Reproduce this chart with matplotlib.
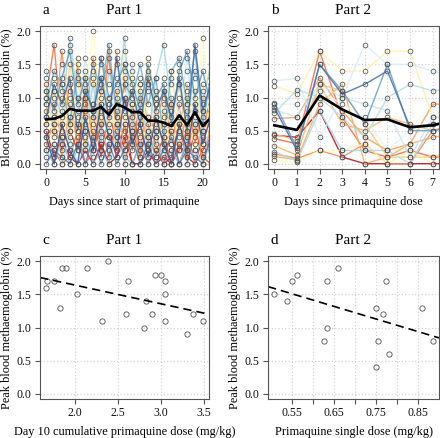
import numpy as np
import matplotlib
matplotlib.use('Agg')
import matplotlib.pyplot as plt

plt.rcParams['font.family'] = ['Liberation Serif', 'DejaVu Serif']

# Part 1: daily methaemoglobin (%) per subject, days 0..21
days_a = np.arange(22)
part1 = [
    [0.5, 0.1, 0.4, 0.1, 0.0, 0.2, 0.0, 0.3, 0.0, 0.1, 0.4, 0.0, 0.0, 0.2, 0.0, 0.1, 0.0, 0.3, 0.1, 0.0, 0.4, 0.2],
    [0.6, 0.9, 0.3, 0.5, 0.2, 0.9, 0.8, 0.2, 0.5, 0.1, 0.6, 0.0, 0.3, 0.0, 0.2, 0.0, 0.1, 0.6, 0.0, 0.5, 0.1, 0.3],
    [0.4, 0.6, 0.2, 0.7, 0.6, 0.3, 0.7, 0.1, 0.8, 0.3, 0.3, 0.9, 0.2, 0.5, 0.1, 0.4, 0.0, 0.2, 0.5, 0.0, 0.2, 0.4],
    [0.3, 0.2, 0.0, 0.1, 0.5, 0.0, 0.2, 0.6, 0.1, 0.7, 0.0, 0.5, 0.1, 0.6, 0.3, 0.0, 0.5, 0.0, 0.3, 0.6, 0.1, 0.0],
    [1.0, 1.8, 0.5, 1.2, 0.3, 1.0, 0.4, 1.1, 1.6, 0.6, 1.2, 0.2, 1.0, 0.7, 0.5, 1.1, 0.3, 0.9, 0.1, 0.8, 0.5, 1.0],
    [0.8, 0.5, 1.7, 0.6, 1.5, 0.6, 1.6, 0.4, 1.7, 0.4, 1.3, 0.7, 0.1, 1.2, 0.4, 0.6, 0.9, 0.2, 0.8, 0.3, 0.8, 0.5],
    [0.2, 0.7, 0.1, 0.9, 0.3, 1.2, 0.2, 0.8, 0.4, 1.1, 0.2, 0.6, 0.8, 0.3, 0.9, 0.2, 0.6, 1.2, 0.4, 0.9, 0.0, 0.6],
    [1.2, 0.4, 1.0, 0.5, 1.3, 0.2, 0.9, 1.6, 0.6, 1.7, 0.5, 1.1, 0.4, 1.4, 0.7, 0.3, 1.0, 0.5, 1.2, 0.4, 1.0, 0.8],
    [0.6, 1.1, 0.3, 1.5, 0.8, 0.5, 1.3, 0.6, 1.0, 0.3, 1.5, 0.4, 1.2, 0.5, 0.2, 0.8, 0.3, 0.7, 0.2, 1.1, 0.3, 0.9],
    [0.9, 0.5, 1.2, 0.3, 1.6, 0.8, 0.3, 1.2, 0.5, 1.0, 0.7, 1.3, 0.6, 0.2, 1.1, 0.5, 0.8, 0.4, 1.0, 0.6, 1.2, 0.7],
    [1.1, 0.7, 0.4, 1.0, 0.6, 1.4, 0.5, 1.0, 0.9, 0.5, 1.7, 0.8, 1.2, 0.7, 0.4, 0.9, 1.4, 0.6, 0.9, 0.2, 0.7, 1.1],
    [0.7, 1.3, 0.6, 1.8, 0.4, 1.1, 2.0, 0.7, 1.2, 0.8, 1.0, 1.4, 0.5, 1.6, 0.9, 0.6, 1.2, 0.3, 1.1, 0.7, 1.9, 0.6],
    [1.0, 0.3, 1.1, 0.7, 1.2, 0.4, 1.4, 0.9, 0.3, 1.3, 0.6, 0.9, 1.3, 0.4, 1.0, 0.7, 0.2, 1.5, 0.6, 1.3, 0.5, 1.2],
    [0.5, 1.0, 0.8, 0.2, 1.0, 1.3, 0.6, 1.5, 0.9, 0.6, 1.4, 0.5, 0.9, 1.1, 0.6, 1.3, 0.5, 1.0, 1.4, 0.8, 0.6, 1.3],
    [1.3, 0.6, 1.5, 1.1, 0.7, 1.6, 0.9, 1.3, 0.4, 1.5, 0.9, 1.5, 0.7, 1.2, 0.5, 1.0, 1.3, 0.7, 1.6, 0.5, 1.1, 0.8],
    [0.1, 0.3, 0.0, 0.4, 0.0, 0.3, 0.1, 0.5, 0.2, 0.4, 0.0, 0.3, 0.0, 0.4, 0.1, 0.3, 0.0, 0.5, 0.0, 0.2, 0.0, 0.3],
    [1.4, 1.1, 0.7, 1.9, 1.0, 0.5, 1.2, 0.3, 1.4, 0.9, 1.9, 0.5, 1.1, 0.3, 1.3, 1.8, 0.9, 1.2, 0.7, 1.4, 0.9, 1.5],
    [0.2, 0.0, 0.4, 0.0, 0.2, 0.5, 0.0, 0.2, 0.0, 0.6, 0.1, 0.0, 0.3, 0.0, 0.5, 0.0, 0.2, 0.0, 0.4, 0.0, 0.5, 0.1],
    [0.9, 1.4, 1.2, 0.6, 1.4, 1.0, 1.5, 1.1, 1.8, 0.7, 1.2, 1.0, 1.5, 0.9, 1.3, 0.4, 1.4, 1.6, 0.9, 1.7, 0.6, 1.3],
    [1.1, 0.8, 1.3, 1.7, 0.9, 1.3, 0.7, 1.6, 1.0, 1.2, 1.5, 1.2, 0.8, 1.5, 1.0, 1.2, 0.6, 1.4, 1.7, 1.0, 1.4, 0.9],
    [0.0, 0.2, 0.1, 0.0, 0.3, 0.0, 0.4, 0.0, 0.3, 0.0, 0.2, 0.4, 0.0, 0.3, 0.0, 0.2, 0.4, 0.0, 0.2, 0.1, 0.0, 0.4],
    [0.7, 1.2, 0.9, 1.3, 0.5, 1.1, 0.8, 1.3, 0.7, 1.6, 0.8, 1.1, 0.6, 1.3, 0.8, 1.1, 0.7, 1.3, 0.5, 1.8, 0.8, 1.2],
    [0.4, 0.0, 0.6, 0.2, 0.0, 0.7, 0.2, 0.9, 0.4, 0.2, 1.0, 0.3, 0.6, 0.1, 0.7, 0.3, 0.0, 0.6, 0.2, 0.9, 0.3, 0.7],
]
mean_a = [0.67, 0.68, 0.72, 0.83, 0.80, 0.80, 0.80, 0.86, 0.74, 0.90, 0.85,
          0.78, 0.78, 0.65, 0.65, 0.62, 0.57, 0.73, 0.58, 0.78, 0.57, 0.69]

# Part 2: daily methaemoglobin (%) per subject, days 0..8
days_b = np.arange(9)
part2 = [
    [0.43, 0.40, 0.80, 0.10, 0.00, 0.00, 0.00, 0.00, 0.00],
    [0.38, 0.30, 1.70, 0.70, 0.20, 0.10, 0.20, 0.10, 0.10],
    [0.15, 0.08, 0.20, 0.10, 0.30, 0.00, 0.00, 0.50, 0.60],
    [0.68, 0.70, 1.30, 0.80, 0.40, 0.20, 0.30, 0.90, 0.90],
    [0.27, 0.13, 1.20, 0.60, 0.50, 0.70, 0.60, 0.50, 0.55],
    [0.11, 0.06, 0.90, 1.20, 0.00, 0.10, 0.30, 0.40, 0.45],
    [0.45, 0.35, 1.20, 1.10, 0.60, 0.10, 0.10, 0.10, 0.20],
    [1.18, 1.05, 1.70, 1.40, 1.40, 1.70, 1.70, 0.70, 0.75],
    [0.06, 0.02, 0.20, 0.20, 0.30, 0.00, 0.20, 0.00, 0.30],
    [0.90, 0.90, 1.10, 0.90, 0.70, 0.20, 0.50, 0.60, 0.60],
    [1.25, 1.29, 0.40, 1.00, 1.80, 1.50, 1.50, 1.40, 1.30],
    [0.81, 0.71, 1.20, 1.00, 0.90, 0.80, 0.10, 0.70, 0.70],
    [0.76, 1.12, 1.00, 0.70, 0.40, 1.00, 1.20, 1.10, 1.15],
    [0.18, 0.04, 0.80, 0.20, 0.20, 0.20, 0.00, 0.60, 0.65],
    [0.92, 0.24, 1.50, 1.10, 0.60, 1.50, 0.50, 0.50, 0.55],
    [0.85, 0.20, 1.50, 1.05, 1.20, 1.40, 0.55, 0.60, 0.60],
]
mean_b = [0.58, 0.51, 1.03, 0.82, 0.66, 0.67, 0.55, 0.58, 0.66]
# position of each Part 2 subject on the red-yellow-blue scale
shade_b = [0.05, 0.2, 0.25, 0.28, 0.32, 0.3, 0.35, 0.45, 0.48,
           0.58, 0.62, 0.65, 0.68, 0.7, 0.82, 0.9]

# Peak methaemoglobin vs dose
dose_c = [1.665, 1.67, 1.75, 1.82, 1.85, 1.90, 2.02, 2.14, 2.32, 2.385, 2.60, 2.615,
          2.80, 2.83, 2.90, 2.935, 3.00, 3.05, 3.05, 3.05, 3.31, 3.38, 3.49]
peak_c = [1.6, 1.7, 1.7, 1.3, 1.9, 1.9, 1.5, 1.9, 1.1, 2.0, 1.2, 1.7,
          1.0, 1.4, 1.2, 1.8, 1.8, 1.7, 1.5, 1.1, 0.9, 1.2, 1.1]
dose_d = [0.509, 0.539, 0.55, 0.564, 0.628, 0.635, 0.635, 0.661,
          0.75, 0.751, 0.757, 0.767, 0.774, 0.782, 0.861, 0.886]
peak_d = [1.5, 1.4, 1.7, 1.8, 0.8, 1.7, 1.0, 1.9,
          0.4, 1.3, 0.8, 1.2, 1.7, 0.6, 1.3, 0.8]

W, H = 440, 438
fig = plt.figure(figsize=(W / 100, H / 100), dpi=100)
EDGE = '#505050'


def panel(x0, y0, x1, y1):
    return fig.add_axes([x0 / W, 1 - y1 / H, (x1 - x0) / W, (y1 - y0) / H])


def pad_lim(vals):
    lo, hi = min(vals), max(vals)
    d = (hi - lo) * 0.04
    return lo - d, hi + d


def style(ax, letter, title, xlabel, ylabel):
    ax.set_ylim(-0.08, 2.08)
    ax.set_yticks([0, 0.5, 1.0, 1.5, 2.0])
    ax.set_yticklabels(['0.0', '0.5', '1.0', '1.5', '2.0'])
    ax.grid(True, color='#cfcfcf', linestyle=(0, (1, 2)), linewidth=0.8)
    ax.set_axisbelow(True)
    for s in ax.spines.values():
        s.set_color('#555555')
        s.set_linewidth(0.8)
    ax.tick_params(direction='out', length=3.5, width=0.8, color='#555555',
                   labelsize=8.6, pad=2.5, labelcolor='#111111')
    ax.set_xlabel(xlabel, fontsize=8.8, labelpad=5)
    ax.set_ylabel(ylabel, fontsize=8.8, labelpad=3)
    ax.text(0.5, 1.082, title, transform=ax.transAxes, ha='center', va='baseline', fontsize=11)
    ax.text(0.015, 1.082, letter, transform=ax.transAxes, ha='left', va='baseline', fontsize=11)


def subject_lines(ax, days, series, cols):
    for vals, c in zip(series, cols):
        ax.plot(days, vals, color=c, lw=1.0, alpha=0.9, zorder=2)
        ax.plot(days, vals, 'o', mfc='none', mec=EDGE, ms=3.4, mew=0.55, zorder=3)


# a
ax = panel(40, 26, 209, 169)
subject_lines(ax, days_a, part1, plt.cm.RdYlBu(np.linspace(0.05, 0.95, len(part1))))
ax.plot(days_a, mean_a, color='black', lw=1.9, zorder=4)
ax.set_xlim(-0.8, 20.8)
ax.set_xticks([0, 5, 10, 15, 20])
style(ax, 'a', 'Part 1', 'Days since start of primaquine', 'Blood methaemoglobin (%)')

# b
ax = panel(268, 26, 439, 169)
subject_lines(ax, days_b, part2, plt.cm.RdYlBu(shade_b))
ax.plot(days_b, mean_b, color='black', lw=1.9, zorder=4)
ax.set_xlim(-0.28, 7.28)
ax.set_xticks(range(8))
style(ax, 'b', 'Part 2', 'Days since primaquine dose', 'Blood methaemoglobin (%)')

# c
ax = panel(40, 256, 209, 399)
ax.plot(dose_c, peak_c, 'o', mfc='none', mec=EDGE, ms=3.8, mew=0.6)
xl = pad_lim(dose_c)
slope, icpt = np.polyfit(dose_c, peak_c, 1)
ax.plot(xl, [icpt + slope * v for v in xl], color='black', lw=1.2, ls=(0, (5, 3)))
ax.set_xlim(xl)
ax.set_xticks([2.0, 2.5, 3.0, 3.5])
style(ax, 'c', 'Part 1', 'Day 10 cumulative primaquine dose (mg/kg)', 'Peak blood methaemoglobin (%)')

# d
ax = panel(268, 256, 439, 399)
ax.plot(dose_d, peak_d, 'o', mfc='none', mec=EDGE, ms=3.8, mew=0.6)
xl = pad_lim(dose_d)
slope, icpt = np.polyfit(dose_d, peak_d, 1)
ax.plot(xl, [icpt + slope * v for v in xl], color='black', lw=1.2, ls=(0, (5, 3)))
ax.set_xlim(xl)
ax.set_xticks([0.55, 0.60, 0.65, 0.70, 0.75, 0.80, 0.85])
ax.set_xticklabels(['0.55', '', '0.65', '', '0.75', '', '0.85'])
style(ax, 'd', 'Part 2', 'Primaquine single dose (mg/kg)', 'Peak blood methaemoglobin (%)')

fig.savefig('out.png', dpi=100)
